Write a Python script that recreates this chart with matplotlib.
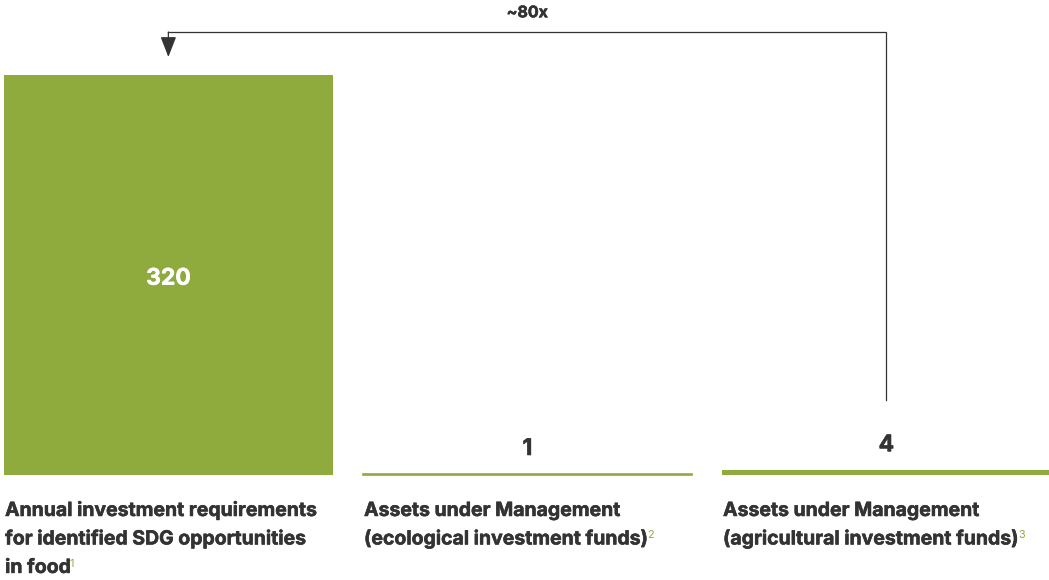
import matplotlib.pyplot as plt
import matplotlib.patheffects as pe
import numpy as np

# data
values = [320, 1, 4]
value_labels = ["320", "1", "4"]
categories = [
    ["Annual investment requirements", "for identified SDG opportunities", "in food"],
    ["Assets under Management", "(ecological investment funds)"],
    ["Assets under Management", "(agricultural investment funds)"],
]
footnotes = ["1", "2", "3"]
ratio_label = "~80x"

green = "#8FAA3D"
dark = "#333333"
plt.rcParams['font.family'] = ['Inter', 'DejaVu Sans']
wt = 'bold'
thick_dark = [pe.withStroke(linewidth=0.4, foreground=dark)]
thick_white = [pe.withStroke(linewidth=0.4, foreground='white')]

fig = plt.figure(figsize=(10.49, 5.8), dpi=100)
ax = fig.add_axes([0, 0, 1, 1])
ax.set_xlim(-0.469, 2.453)
ax.set_ylim(-84, 380)
ax.axis('off')

x = np.arange(len(values))
w = 0.916
ax.bar(x, values, width=w, color=green, edgecolor=green, linewidth=[0, 1.2, 0])

# value labels
ax.annotate(value_labels[0], xy=(x[0], values[0] / 2), xytext=(0, -7),
            textcoords='offset points', ha='center', va='baseline',
            fontsize=16.5, fontweight=wt, color='white', path_effects=thick_white)
for i in (1, 2):
    ax.annotate(value_labels[i], xy=(x[i], values[i]), xytext=(0, 13.5),
                textcoords='offset points', ha='center', va='baseline',
                fontsize=16.5, fontweight=wt, color=dark, path_effects=thick_dark)

# category labels with green footnote markers
for i, lines in enumerate(categories):
    t = None
    for j, line in enumerate(lines):
        t = ax.annotate(line, xy=(x[i] - w / 2, 0), xytext=(0.8, -29.5 - j * 20.5),
                        textcoords='offset points', ha='left', va='baseline',
                        fontsize=14, fontweight=wt, color=dark,
                        path_effects=thick_dark)
    ax.annotate(footnotes[i], xy=(1, 0), xycoords=t, xytext=(-1.2, 7.4),
                textcoords='offset points', ha='left', va='baseline',
                fontsize=7.8, color=green)

# connector arrow from bar 3 to bar 1
y_start, y_top, y_tip = 60, 354.4, 334.4
ax.plot([x[2], x[2], x[0]], [y_start, y_top, y_top], color=dark, lw=0.9,
        solid_joinstyle='miter')
ax.annotate('', xy=(x[0], y_tip), xytext=(x[0], y_top),
            arrowprops=dict(arrowstyle='-|>,head_length=0.9,head_width=0.35',
                            color=dark, lw=0.9, shrinkA=0, shrinkB=0,
                            mutation_scale=14))
ax.annotate(ratio_label, xy=(x[1], y_top), xytext=(0, 10.6),
            textcoords='offset points', ha='center', va='baseline',
            fontsize=11.5, fontweight=wt, color=dark, path_effects=thick_dark)

fig.savefig("out.png", dpi=100)
